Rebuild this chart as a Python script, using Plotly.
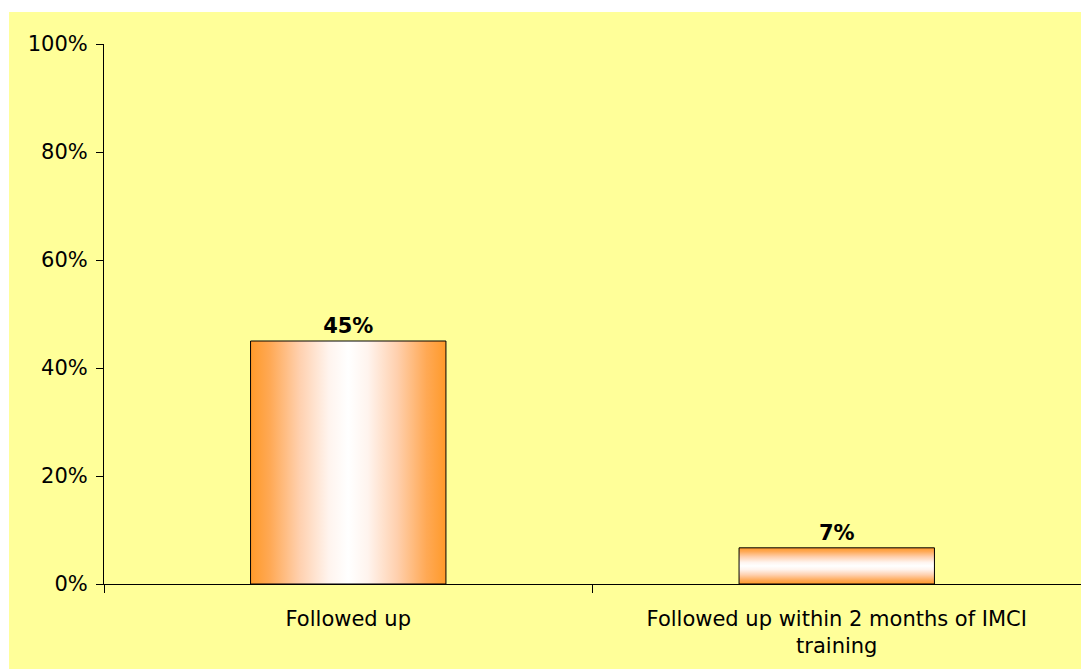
import plotly.graph_objects as go

# Chart data
categories = ["Followed up", "Followed up within 2 months of IMCI<br>training"]
values = [0.45, 0.067]
gradient_dirs = ["horizontal", "vertical"]
y_ticks = [0, 0.2, 0.4, 0.6, 0.8, 1.0]

BAR_WIDTH = 0.4
YELLOW = "#FFFF99"
ORANGE = "#FF9A2A"
FONT = "Verdana, DejaVu Sans, sans-serif"

edge_scale = [
    [0.0, ORANGE],
    [0.1, "#FFA955"],
    [0.25, "#FFD0AE"],
    [0.4, "#FFF4EE"],
    [0.5, "#FFFFFF"],
    [0.6, "#FFF4EE"],
    [0.75, "#FFD0AE"],
    [0.9, "#FFA955"],
    [1.0, ORANGE],
]

fig = go.Figure()

# Gradient-filled bar bodies (numeric x axis)
for i, (v, d) in enumerate(zip(values, gradient_dirs)):
    x0, x1 = i - BAR_WIDTH / 2, i + BAR_WIDTH / 2
    fig.add_trace(go.Scatter(
        x=[x0, x1, x1, x0, x0],
        y=[0, 0, v, v, 0],
        mode="lines",
        line=dict(width=0),
        fill="toself",
        fillgradient=dict(type=d, colorscale=edge_scale),
        hoverinfo="skip",
        showlegend=False,
    ))

# Bar outlines and value labels on the overlaid category axis
fig.add_trace(go.Bar(
    x=[0, 1],
    y=values,
    width=BAR_WIDTH,
    xaxis="x2",
    marker=dict(color="rgba(0,0,0,0)", line=dict(color="black", width=1)),
    texttemplate="%{y:.0%}",
    textposition="outside",
    textfont=dict(family=FONT, size=21, color="black", weight="bold"),
    cliponaxis=False,
    hoverinfo="skip",
    showlegend=False,
))

fig.update_layout(
    width=1081,
    height=669,
    margin=dict(l=104, r=0, t=44, b=85),
    paper_bgcolor="white",
    plot_bgcolor=YELLOW,
    font=dict(family=FONT, size=21, color="black"),
    shapes=[dict(
        type="rect", xref="paper", yref="paper",
        x0=-0.0972, x1=1.0, y0=-0.16, y1=1.0593,
        fillcolor=YELLOW, line=dict(width=0), layer="below",
    )],
    xaxis=dict(
        range=[-0.5, 1.5],
        tickvals=[-0.5, 0.5, 1.5],
        showticklabels=False,
        ticks="outside",
        ticklen=8,
        tickcolor="black",
        showline=True,
        linecolor="black",
        linewidth=1,
        showgrid=False,
        zeroline=False,
        fixedrange=True,
    ),
    xaxis2=dict(
        overlaying="x",
        anchor="y",
        side="bottom",
        range=[-0.5, 1.5],
        tickvals=[0, 1],
        ticktext=categories,
        ticks="",
        showline=False,
        showgrid=False,
        zeroline=False,
        ticklabelstandoff=20,
        tickfont=dict(family=FONT, size=21),
    ),
    yaxis=dict(
        range=[0, 1],
        tickvals=y_ticks,
        tickformat=".0%",
        ticks="outside",
        ticklen=7,
        tickcolor="black",
        showline=True,
        linecolor="black",
        linewidth=1,
        showgrid=False,
        zeroline=False,
        ticklabelstandoff=4,
        tickfont=dict(family=FONT, size=21),
    ),
)

fig.write_html("out.html")
